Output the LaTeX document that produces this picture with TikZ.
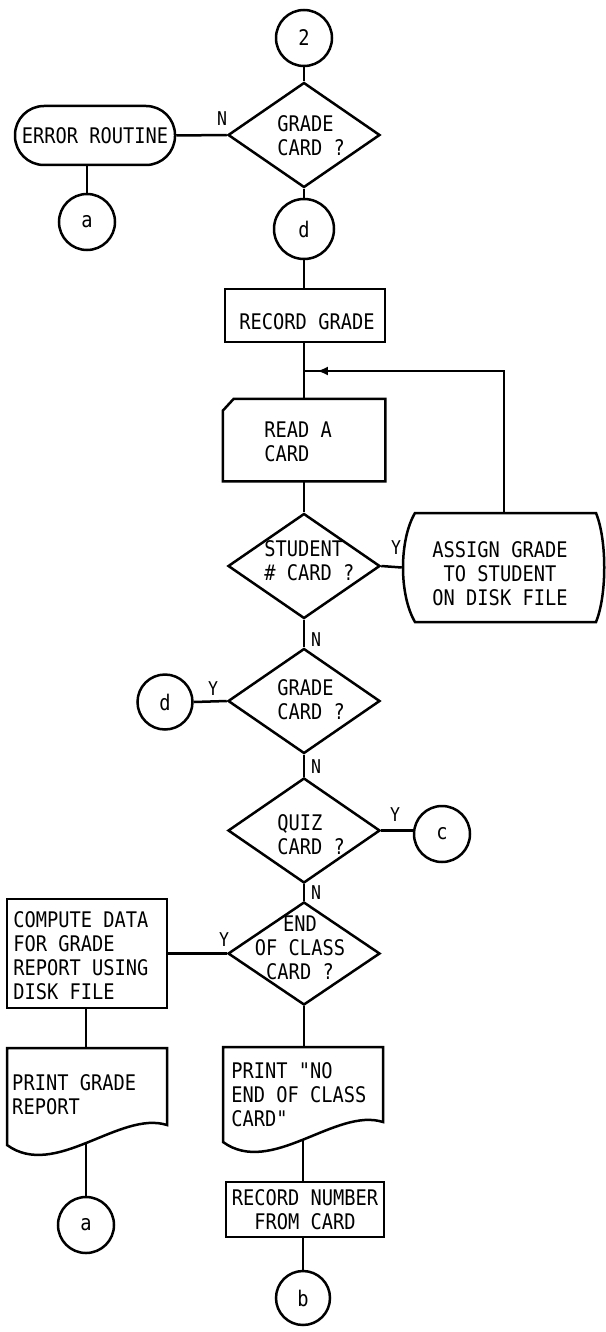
\documentclass[tikz,border=0pt]{standalone}
\usepackage{fontspec}
\newfontfamily\lgfont[FakeStretch=0.87]{DejaVu Sans Mono}
\usetikzlibrary{shapes.geometric,decorations.markings,arrows.meta}
\begin{document}
\begin{tikzpicture}[x=1pt,y=-1pt,line width=2.5pt,
  every node/.style={inner sep=0pt},
  txt/.style={font=\lgfont\fontsize{21.5}{24}\selectfont},
  lbl/.style={font=\lgfont\fontsize{19}{21}\selectfont},
  conn/.style={draw,circle,minimum size=56pt,font=\lgfont\fontsize{21.5}{24}\selectfont},
  dec/.style={draw,diamond,minimum width=152pt,minimum height=105pt},
  box/.style={draw,rectangle},
  hid/.style={rectangle,draw=none},
  looparrow/.style={postaction={decorate},decoration={markings,
     mark=at position 0.962 with {\arrow{Latex[length=11pt,width=9pt]}}}}]
\useasboundingbox[fill=white] (0,0) rectangle (605,1332);

% ---- nodes ----
\node[conn] (c2) at (304,38) {2};
\node[dec] (g1) at (304,135) {};
\node[txt,anchor=west,align=left] (g1t) at (276,136) {GRADE\\CARD ?};
\node[box,rounded corners=29pt,minimum width=160pt,minimum height=59pt,txt] (err) at (95,135.5) {ERROR ROUTINE};
\node[conn] (a1) at (87,222) {a};
\node[conn,minimum size=60pt] (d1) at (304,229) {d};

\node[box,minimum width=160pt,minimum height=53pt] (rg) at (305,315.5) {};
\node[txt] (rgt) at (307,322) {RECORD GRADE};

\coordinate (j) at (304,371);

\node[hid,minimum width=160pt,minimum height=80pt] (read) at (304,440) {};
\draw ([xshift=11pt]read.north west) -- (read.north east) -- (read.south east)
      -- (read.south west) -- ([yshift=-12pt]read.north west) -- cycle;
\node[txt,anchor=west,align=left] (readt) at (263,442) {READ A\\CARD};

\node[dec] (stu) at (304,566) {};
\node[txt,anchor=west,align=left] (stut) at (263,561) {STUDENT\\\# CARD ?};

\node[hid,minimum width=202pt,minimum height=109pt] (asg) at (504,567.5) {};
\draw (415,513) -- (596,513) .. controls (607,540) and (607,595) .. (596,622)
      -- (415,622) .. controls (399,595) and (399,540) .. (415,513) -- cycle;
\node[txt,align=center] (asgt) at (500,574) {ASSIGN GRADE\\TO STUDENT\\ON DISK FILE};

\node[dec] (g2) at (304,701) {};
\node[txt,anchor=west,align=left] (g2t) at (276,700) {GRADE\\CARD ?};
\node[conn,minimum size=55pt] (d2) at (165,702) {d};

\node[dec] (quiz) at (304,830.5) {};
\node[txt,anchor=west,align=left] (quizt) at (276,835) {QUIZ\\CARD ?};
\node[conn] (c) at (442,834) {c};

\node[dec,minimum height=103pt] (eoc) at (304,953.5) {};
\node[txt,align=center] (eoct) at (300,948) {END\\OF CLASS\\CARD ?};

\node[box,minimum width=160pt,minimum height=109pt] (comp) at (87,953.5) {};
\node[txt,anchor=west,align=left] (compt) at (12,956) {COMPUTE DATA\\FOR GRADE\\REPORT USING\\DISK FILE};

\node[hid,minimum width=160pt,minimum height=97pt] (pgr) at (87,1096.5) {};
\draw (7,1048) -- (167,1048) -- (167,1125) .. controls (120,1110) and (55,1180) .. (7,1145) -- cycle;
\node[txt,anchor=west,align=left] (pgrt) at (11,1095) {PRINT GRADE\\REPORT};
\coordinate (pgw) at (86,1142.5);
\node[conn] (a2) at (86,1225) {a};

\node[hid,minimum width=160pt,minimum height=95pt] (pno) at (303,1094.5) {};
\draw (223,1047) -- (383,1047) -- (383,1122) .. controls (336,1107) and (271,1177) .. (223,1142) -- cycle;
\node[txt,anchor=west,align=left] (pnot) at (230,1095) {PRINT "NO\\END OF CLASS\\CARD"};
\coordinate (pnw) at (303,1139.5);

\node[box,minimum width=158pt,minimum height=55pt,txt,align=center] (rn) at (305,1209.5) {RECORD NUMBER\\FROM CARD};
\node[conn,minimum size=54pt] (b) at (303,1298) {b};

% ---- connectors ----
\draw (c2) -- (g1.north);
\draw (g1.west) -- (err.east);
\draw (a1.north |- err.south) -- (a1.north);
\draw (g1.south) -- (d1.north);
\draw (d1.south) -- (d1.south |- rg.north);
\draw (rg.south -| read.north) -- (read.north);
\draw[looparrow] (asg.north) |- (j);
\draw (read.south) -- (stu.north);
\draw (stu.east) -- (asg.west);
\draw (stu.south) -- (g2.north);
\draw (g2.west) -- (d2.east);
\draw (g2.south) -- (quiz.north);
\draw (quiz.east) -- (quiz.east -| c.west);
\draw (quiz.south) -- (eoc.north);
\draw (eoc.west) -- (eoc.west -| comp.east);
\draw (comp.south -| a2.north) -- (pgr.north -| a2.north);
\draw (pgw) -- (a2.north);
\draw (eoc.south) -- (eoc.south |- pno.north);
\draw (pnw) -- (pnw |- rn.north);
\draw (b.north |- rn.south) -- (b.north);

% ---- branch labels ----
\node[lbl] (ln1) at (222,119) {N};
\node[lbl] (ly1) at (396,548) {Y};
\node[lbl] (ln2) at (316,640) {N};
\node[lbl] (ly2) at (213,689) {Y};
\node[lbl] (ln3) at (316,767) {N};
\node[lbl] (ly3) at (395,815) {Y};
\node[lbl] (ln4) at (316,893) {N};
\node[lbl] (ly4) at (224,940) {Y};
\end{tikzpicture}
\end{document}
